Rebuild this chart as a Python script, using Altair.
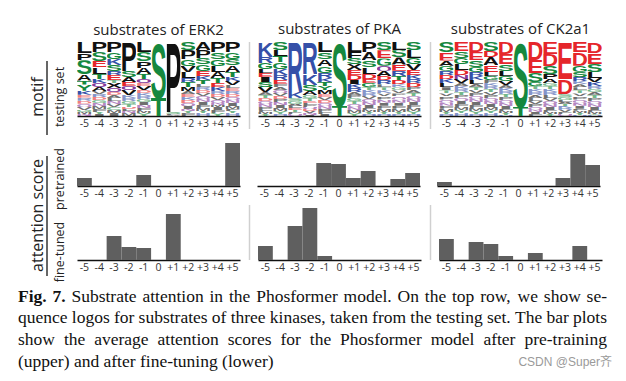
import base64
import altair as alt
import pandas as pd

positions = ["-5", "-4", "-3", "-2", "-1", "0", "+1", "+2", "+3", "+4", "+5"]
kinase_titles = ["substrates of ERK2", "substrates of PKA", "substrates of CK2a1"]

# sequence logo columns: letters top->bottom, relative heights
erk2_letters = ["LPSATYKERDQVGMN", "PSELTKQAVRDGNMFYI", "PGKSRETXQDALNVCMI", "PSAEQVKRGTDLNM",
                "LSPATQEVDKRGINFMY", "ST", "PSLA", "SPGVLRTMAEKDQINYF", "APSGEKTLRDVQNIFMYH",
                "PSGLATEKRDVQNMIFY", "PGSATKVLERDQNIMFYH"]
erk2_heights = [[11, 7, 14, 6, 4, 6, 4, 3, 3, 3, 3, 3, 2, 2, 2],
                [10, 9, 6, 7, 5, 4, 4, 4, 3, 3, 3, 3, 3, 3, 3, 2, 2],
                [10, 7, 6, 6, 4, 5, 3, 5, 4, 3, 3, 3, 3, 3, 3, 3, 3],
                [29, 6, 5, 4, 4, 5, 3, 3, 3, 3, 2, 2, 2, 3],
                [10, 9, 7, 6, 5, 4, 3, 4, 3, 3, 3, 3, 3, 3, 3, 2, 3],
                [56, 18],
                [70, 2, 1, 1],
                [8, 9, 7, 6, 6, 4, 5, 4, 3, 3, 3, 3, 3, 3, 2, 2, 3],
                [8, 8, 6, 7, 5, 4, 4, 3, 3, 3, 3, 3, 3, 3, 3, 3, 2, 3],
                [10, 7, 7, 6, 6, 5, 4, 4, 3, 3, 3, 3, 2, 2, 3, 3, 3],
                [10, 7, 6, 7, 5, 4, 4, 3, 3, 3, 3, 3, 3, 3, 3, 2, 2, 3]]

pka_letters = ["KRGLEISVATDQNPFMY", "SLTGKREFAQVDPNIMYH", "RKSGALETPQ", "RKSAGTELPQDVNI",
               "LSAGRKTYMEVDQNPFI", "ST", "LFSXEDIKRAPGTQNMY", "PASLDEGTKRVQNIFMYH",
               "SEGQADRLTKVPNIFMYH", "LSAERTDKGVPQNIFMYH", "SLGVEKRDPATQNIFMYH"]
pka_heights = [[15, 6, 6, 4, 4, 5, 5, 5, 3, 3, 3, 3, 3, 3, 2, 2, 2],
               [8, 6, 6, 7, 6, 5, 4, 3, 3, 3, 3, 3, 3, 3, 3, 3, 3, 2],
               [50, 6, 3, 3, 2, 2, 2, 2, 2, 2],
               [32, 11, 6, 4, 3, 3, 2, 2, 2, 2, 2, 2, 2, 1],
               [10, 7, 7, 7, 5, 4, 4, 4, 4, 3, 3, 3, 3, 3, 3, 2, 2],
               [64, 10],
               [10, 6, 6, 6, 5, 5, 4, 4, 4, 3, 3, 3, 3, 3, 3, 3, 3],
               [10, 8, 7, 7, 5, 4, 4, 3, 3, 3, 3, 3, 3, 3, 2, 2, 2, 2],
               [8, 8, 7, 5, 5, 4, 4, 3, 3, 3, 3, 3, 3, 3, 3, 3, 2, 2],
               [8, 7, 7, 6, 5, 4, 4, 3, 3, 3, 3, 3, 3, 3, 3, 3, 2, 2],
               [8, 8, 6, 6, 5, 4, 4, 4, 3, 3, 3, 3, 3, 3, 3, 3, 3, 2]]

ck2_letters = ["SEAGRDKLITVPQNFMYH", "ESGLDNVAKRTPQIFMYH", "DESGRKLATVPQNIFMYH", "SDAELGFKRTVPQNIMYH",
               "DESLGVAKRTPQNIFMYH", "ST", "DESGTKRALVPQNIF", "EDSPAGTKRLVQNIFMY",
               "EDSGLATKRVPQ", "EDGSRKALTVPQNIFMYH", "DESLVKRGATPQNIFMYH"]
ck2_heights = [[10, 8, 5, 5, 4, 4, 4, 4, 3, 3, 3, 3, 3, 3, 3, 3, 2, 2],
               [9, 7, 6, 6, 5, 4, 4, 3, 3, 3, 3, 3, 3, 3, 3, 3, 3, 3],
               [10, 8, 7, 5, 4, 4, 4, 3, 3, 3, 3, 3, 3, 3, 3, 3, 3, 2],
               [9, 6, 8, 7, 4, 4, 3, 3, 3, 3, 3, 3, 3, 3, 3, 3, 3, 3],
               [12, 10, 7, 5, 5, 4, 3, 3, 3, 3, 3, 3, 3, 3, 2, 2, 2, 1],
               [65, 9],
               [18, 13, 9, 4, 3, 3, 3, 3, 3, 3, 3, 3, 2, 2, 2],
               [12, 12, 8, 5, 4, 3, 3, 3, 3, 3, 3, 3, 3, 3, 2, 2, 2],
               [37, 15, 3, 3, 2, 2, 2, 2, 2, 2, 2, 2],
               [10, 13, 6, 5, 4, 3, 3, 3, 3, 3, 3, 3, 3, 3, 2, 2, 2, 1],
               [11, 11, 8, 6, 4, 4, 3, 3, 3, 3, 3, 3, 3, 3, 2, 2, 1, 1]]

# average attention scores
erk2_pretrained = [0.08, 0, 0, 0, 0.11, 0, 0, 0, 0, 0, 0.43]
erk2_finetuned = [0, 0, 0.24, 0.13, 0.12, 0, 0.46, 0, 0, 0, 0]
pka_pretrained = [0, 0, 0, 0, 0.23, 0.22, 0.08, 0.15, 0, 0.07, 0.13]
pka_finetuned = [0.14, 0, 0.34, 0.52, 0.04, 0, 0, 0, 0, 0, 0]
ck2_pretrained = [0.04, 0, 0, 0, 0, 0, 0, 0, 0.08, 0.32, 0.21]
ck2_finetuned = [0.21, 0, 0.18, 0.16, 0.04, 0, 0.07, 0, 0, 0.14, 0]

caption_lines = [
    "Fig. 7. Substrate attention in the Phosformer model. On the top row, we show se-",
    "quence logos for substrates of three kinases, taken from the testing set. The bar plots",
    "show the average attention scores for the Phosformer model after pre-training",
    "(upper) and after fine-tuning (lower)",
]
watermark = "CSDN @Super齐"

# ---------------- styling ----------------
GREEN, RED, BLUE, PURPLE, BLACK = "#15883e", "#e5262b", "#3550a8", "#84399a", "#111111"


def letter_color(ch):
    if ch in "GSTYC":
        return GREEN
    if ch in "KRH":
        return BLUE
    if ch in "DE":
        return RED
    if ch in "NQ":
        return PURPLE
    return BLACK


def letter_uri(ch):
    svg = ('<svg xmlns="http://www.w3.org/2000/svg" viewBox="4 0 92 100" preserveAspectRatio="none">'
           '<text x="0" y="100" font-family="Liberation Sans, Arial, sans-serif" font-weight="bold" '
           'font-size="140" textLength="100" lengthAdjust="spacingAndGlyphs" fill="%s">%s</text></svg>'
           % (letter_color(ch), ch))
    return "data:image/svg+xml;base64," + base64.b64encode(svg.encode("utf-8")).decode("ascii")


def logo_frame(letters, heights):
    rows = []
    for pos, lets, hs in zip(positions, letters, heights):
        total = float(sum(hs))
        top = 1.0
        for ch, h in zip(lets, hs):
            f = h / total
            rows.append({"pos": pos, "letter": ch, "y_top": top, "y_bot": top - f,
                         "small": h <= 3})
            top -= f
    df = pd.DataFrame(rows)
    df["url"] = df["letter"].map(letter_uri)
    return df


AX = dict(domainColor="#111111", domainWidth=1.5, ticks=False, tickSize=0, labelPadding=2,
          labelFontSize=10.5, labelColor="#333333", labelFont="Open Sans", labelAngle=0,
          grid=False, title=None)
PW = 163


def xscale():
    return alt.Scale(type="band", domain=positions, paddingInner=0, paddingOuter=0)


def sep_layer(visible, y2):
    return alt.Chart(pd.DataFrame({"s": [0]})).mark_rule(
        color="#d0d0d0", strokeWidth=1.5, opacity=1 if visible else 0
    ).encode(x=alt.value(-8.5), y=alt.value(0), y2=alt.value(y2))


def logo_panel(i, letters, heights):
    img = alt.Chart(logo_frame(letters, heights)).mark_image(aspect=False).encode(
        x=alt.X("pos:N", scale=xscale(), sort=positions, axis=alt.Axis(**AX)),
        y=alt.Y("y_bot:Q", scale=alt.Scale(domain=[0, 1]), axis=None),
        y2="y_top:Q",
        url="url:N",
        opacity=alt.condition("datum.small", alt.value(0.6), alt.value(1.0)),
    )
    return alt.layer(sep_layer(i > 0, 87), img).properties(
        width=PW, height=74,
        title=alt.TitleParams(kinase_titles[i], fontSize=15, font="Open Sans", fontWeight="normal",
                              color="#222222", offset=4.5, anchor="middle"))


def bar_panel(i, values, show_sep):
    df = pd.DataFrame({"pos": positions, "score": values})
    bars = alt.Chart(df).mark_bar(color="#5f5f5f").encode(
        x=alt.X("pos:N", scale=xscale(), sort=positions, axis=alt.Axis(**AX)),
        y=alt.Y("score:Q", scale=alt.Scale(domain=[0, 0.55]), axis=None),
    )
    return alt.layer(sep_layer(show_sep and i > 0, 55), bars).properties(width=PW, height=55)


logo_row = alt.hconcat(logo_panel(0, erk2_letters, erk2_heights),
                       logo_panel(1, pka_letters, pka_heights),
                       logo_panel(2, ck2_letters, ck2_heights), spacing=8)
pre_row = alt.hconcat(bar_panel(0, erk2_pretrained, False), bar_panel(1, pka_pretrained, False),
                      bar_panel(2, ck2_pretrained, False), spacing=8)
fine_row = alt.hconcat(bar_panel(0, erk2_finetuned, True), bar_panel(1, pka_finetuned, True),
                       bar_panel(2, ck2_finetuned, True), spacing=8)
grid = alt.vconcat(logo_row, alt.vconcat(pre_row, fine_row, spacing=5), spacing=1)


# ---------------- left row labels ----------------
def vtext(txt, x, y, size):
    return alt.Chart(pd.DataFrame({"t": [txt]})).mark_text(
        angle=270, fontSize=size, font="Open Sans", color="#222222", align="center", baseline="middle"
    ).encode(text="t:N", x=alt.value(x), y=alt.value(y))


def vline(x, y1, y2):
    return alt.Chart(pd.DataFrame({"s": [0]})).mark_rule(color="#333333", strokeWidth=1.5).encode(
        x=alt.value(x), y=alt.value(y1), y2=alt.value(y2))


labels = alt.layer(
    vtext("motif", 30, 55, 16), vline(39, 19, 93), vtext("testing set", 52, 55, 12.5),
    vtext("attention score", 30, 173.5, 16), vline(39, 114, 234),
    vtext("pretrained", 52, 137, 12.5), vtext("fine-tuned", 52, 210, 12.5),
).properties(width=60, height=240)

# ---------------- caption ----------------
TW = {" ": 250, ",": 250, "-": 333, ".": 250, "(": 333, ")": 333, "7": 500,
      "F": 556, "O": 722, "P": 556, "S": 556, "T": 611,
      "a": 444, "b": 500, "c": 444, "d": 500, "e": 444, "f": 333, "g": 500, "h": 500, "i": 278,
      "j": 278, "k": 500, "l": 278, "m": 778, "n": 500, "o": 500, "p": 500, "q": 500, "r": 333,
      "s": 389, "t": 278, "u": 500, "v": 500, "w": 722, "x": 500, "y": 500, "z": 444}
TWB = {"F": 611, "i": 278, "g": 500, ".": 250, "7": 500}
CAP_SIZE = 17.5
CAP_LEFT, CAP_RIGHT = 10, 599
line_y = [14, 35, 57, 79]

cap_rows = []
for li, line in enumerate(caption_lines):
    words = line.split(" ")
    bolds = [li == 0 and wi < 2 for wi in range(len(words))]
    widths = [sum((TWB if b else TW).get(c, 500) for c in w) / 1000.0 * CAP_SIZE
              for w, b in zip(words, bolds)]
    if li < 3:
        gap = (CAP_RIGHT - CAP_LEFT - sum(widths)) / (len(words) - 1)
    else:
        gap = 0.25 * CAP_SIZE
    x = CAP_LEFT
    for w, wd, b in zip(words, widths, bolds):
        cap_rows.append({"w": w, "x": x, "y": line_y[li], "bold": b})
        x += wd + gap
cap_df = pd.DataFrame(cap_rows)

cap_base = alt.Chart(cap_df).encode(
    x=alt.X("x:Q", scale=None, axis=None), y=alt.Y("y:Q", scale=None, axis=None), text="w:N")
cap_regular = cap_base.transform_filter("!datum.bold").mark_text(
    align="left", baseline="middle", font="Liberation Serif", fontSize=CAP_SIZE, color="#111111")
cap_bold = cap_base.transform_filter("datum.bold").mark_text(
    align="left", baseline="middle", font="Liberation Serif", fontSize=CAP_SIZE, fontWeight="bold",
    color="#111111")
wm = alt.Chart(pd.DataFrame({"t": [watermark]})).mark_text(
    align="right", baseline="middle", font="Liberation Sans, Noto Sans CJK SC", fontSize=12,
    color="#9a9a9a").encode(text="t:N", x=alt.value(604), y=alt.value(79))
caption = alt.layer(cap_regular, cap_bold, wm).properties(width=604, height=87)

chart = alt.vconcat(
    alt.hconcat(labels, grid, spacing=0), caption, spacing=0
).properties(
    padding={"left": 0, "top": 13, "right": 0, "bottom": 0}
).configure(font="Open Sans", view=alt.ViewConfig(stroke=None))

chart.save("out.html", embed_options={"renderer": "svg", "actions": False})
